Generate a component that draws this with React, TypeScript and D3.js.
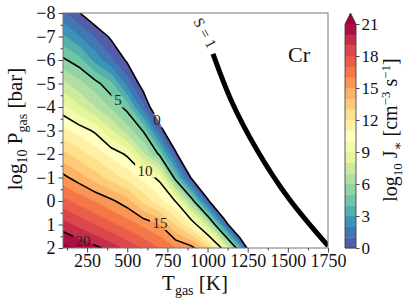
import React, { useEffect, useRef } from 'react';
import * as d3 from 'd3';

// log10 J*: rows are log10 Pgas, columns are Tgas
const gridTemps = [100, 200, 300, 400, 500, 600, 700, 800, 900, 1000, 1100, 1200, 1300];
const gridPressures = [-8, -7, -6, -5, -4, -3, -2, -1, 0, 1, 2];
const logRates = [
  [1.2, 0.07, -1.06, -2.2, -3.3, -4.5, -5.6, -6.7, -7.9, -9.0, -10.1, -11.3, -12.4],
  [3.2, 2.06, 0.92, -0.22, -1.36, -2.5, -3.6, -4.8, -5.9, -7.1, -8.2, -9.3, -10.5],
  [5.2, 4.4, 2.63, 1.21, -0.21, -1.63, -3.05, -4.5, -5.9, -7.3, -8.7, -10.1, -11.6],
  [7.3, 6.35, 5.39, 4.2, 1.53, -0.65, -2.84, -5.0, -7.2, -9.4, -11.6, -13.7, -15.9],
  [9.3, 8.15, 6.99, 5.84, 4.6, 1.22, -1.76, -4.7, -7.7, -10.7, -13.7, -16.7, -19.6],
  [11.3, 10.58, 9.8, 8.08, 6.47, 4.9, 0.93, -2.8, -6.5, -10.3, -14, -17.7, -21.4],
  [13.3, 12.43, 11.56, 10.69, 9.8, 7.2, 4.78, 0.43, -3.9, -8.3, -12.6, -17, -21.3],
  [15.3, 14.46, 13.51, 12.56, 11.61, 10.66, 9.72, 4.48, -0.24, -4.95, -9.7, -14.4, -19.1],
  [17.3, 16.61, 15.91, 15.22, 14.4, 12.71, 11.35, 9.96, 5.76, 0.54, -4.9, -10.3, -15.7],
  [19.4, 18.67, 17.95, 17.22, 16.5, 15.77, 15.04, 12.93, 11.0, 7.6, 1.82, -4.67, -11.2],
  [21.4, 20.84, 20.28, 19.56, 18.69, 17.82, 16.95, 16.09, 15.4, 13.2, 9.47, 3.75, -4.58],
];

const fillLevels = [0, 1, 2, 3, 4, 5, 6, 7, 8, 9, 10, 11, 12, 13, 14, 15, 16, 17, 18, 19, 20, 21];
const lineLevels = [0, 5, 10, 15, 20];

// inline labels of the black contours (position in data coords)
const lineLabels = [
  { text: '5', t: 442, p: -4.28 },
  { text: '0', t: 685, p: -3.43 },
  { text: '10', t: 611, p: -1.29 },
  { text: '15', t: 704, p: 0.93 },
  { text: '20', t: 225, p: 1.7 },
];

// S = 1 curve [Tgas, log10 Pgas]
const saturationTemps = [1034, 1146, 1308, 1513, 1750];
const saturationPressures = [-6.26, -4.3, -2.17, -0.04, 1.91];

const xTicks = [250, 500, 750, 1000, 1250, 1500, 1750];
const xMinorTicks = [125, 375, 625, 875, 1125, 1375, 1625];
const yTicks = [-8, -7, -6, -5, -4, -3, -2, -1, 0, 1, 2];
const yMinorTicks = [-7.5, -6.5, -5.5, -4.5, -3.5, -2.5, -1.5, -0.5, 0.5, 1.5];
const cbarTicks = [0, 3, 6, 9, 12, 15, 18, 21];

// colorbrewer Spectral, reversed (low = purple)
const spectralR = ['#5e4fa2', '#3288bd', '#66c2a5', '#abdda4', '#e6f598', '#ffffbf',
  '#fee08b', '#fdae61', '#f46d43', '#d53e4f', '#9e0142'];

const FONT = "'Liberation Serif', 'DejaVu Serif', serif";

const App = () => {
  const svgRef = useRef(null);

  useEffect(() => {
    const svg = d3.select(svgRef.current);
    svg.selectAll('*').remove();

    const left = 63, right = 328, top = 13, bottom = 248;

    const x = d3.scaleLinear().domain([100, 1750]).range([left, right]);
    const y = d3.scaleLinear().domain([-8, 2]).range([top, bottom]);

    const cmap = d3.scaleLinear<string>()
      .domain(spectralR.map((_, i) => i / (spectralR.length - 1)))
      .range(spectralR)
      .interpolate(d3.interpolateRgb);
    const vmax = fillLevels[fillLevels.length - 1];
    const bandColor = (lvl) => (lvl >= vmax ? spectralR[spectralR.length - 1] : cmap((lvl + 0.5) / vmax));

    const defs = svg.append('defs');
    defs.append('clipPath').attr('id', 'plot-clip')
      .append('rect').attr('x', left).attr('y', top)
      .attr('width', right - left).attr('height', bottom - top);

    // gaps in the contour lines where the labels sit
    const mask = defs.append('mask').attr('id', 'label-gaps')
      .attr('maskUnits', 'userSpaceOnUse')
      .attr('x', 0).attr('y', 0).attr('width', 407).attr('height', 305);
    mask.append('rect').attr('width', 407).attr('height', 305).attr('fill', 'white');
    lineLabels.forEach(l => {
      const w = 7 * l.text.length + 6;
      mask.append('rect')
        .attr('x', x(l.t) - w / 2).attr('y', y(l.p) - 7)
        .attr('width', w).attr('height', 14).attr('fill', 'black');
    });

    // filled contours
    const nx = gridTemps.length;
    const ny = gridPressures.length;
    const dT = gridTemps[1] - gridTemps[0];
    const dP = gridPressures[1] - gridPressures[0];
    const toPx = ([cx, cy]) => [
      x(gridTemps[0] + (cx - 0.5) * dT),
      y(gridPressures[0] + (cy - 0.5) * dP),
    ];
    const pathOf = (geom) => geom.coordinates
      .map(poly => poly.map(ring => 'M' + ring.map(p => toPx(p).map(v => v.toFixed(2)).join(',')).join('L') + 'Z').join(''))
      .join('');

    const values = logRates.flat();
    const contours = d3.contours().size([nx, ny]).thresholds(fillLevels)(values);
    const lineContours = d3.contours().size([nx, ny]).thresholds(lineLevels)(values);

    const g = svg.append('g').attr('clip-path', 'url(#plot-clip)');
    g.selectAll('path.band')
      .data(contours)
      .enter().append('path')
      .attr('class', 'band')
      .attr('d', d => pathOf(d))
      .attr('fill', d => bandColor(d.value))
      .attr('stroke', d => bandColor(d.value))
      .attr('stroke-width', 0.4);

    g.append('g').attr('mask', 'url(#label-gaps)')
      .selectAll('path')
      .data(lineContours)
      .enter().append('path')
      .attr('d', d => pathOf(d))
      .attr('fill', 'none')
      .attr('stroke', '#000')
      .attr('stroke-width', 1.6);

    g.selectAll('text.clabel')
      .data(lineLabels)
      .enter().append('text')
      .attr('class', 'clabel')
      .attr('x', d => x(d.t)).attr('y', d => y(d.p))
      .attr('text-anchor', 'middle')
      .attr('dominant-baseline', 'central')
      .attr('font-family', FONT)
      .attr('font-size', 15)
      .attr('fill', '#222')
      .text(d => d.text);

    // S = 1 line
    const satPoints = saturationTemps.map((t, i) => [t, saturationPressures[i]]);
    const satLine = d3.line().x(d => x(d[0])).y(d => y(d[1])).curve(d3.curveNatural);
    g.append('path')
      .attr('d', satLine(satPoints))
      .attr('fill', 'none')
      .attr('stroke', '#000')
      .attr('stroke-width', 5);

    svg.append('text')
      .attr('transform', `translate(205,33) rotate(62)`)
      .attr('text-anchor', 'middle')
      .attr('dominant-baseline', 'central')
      .attr('font-family', FONT)
      .attr('font-size', 15)
      .attr('fill', '#222')
      .text('S = 1');

    svg.append('text')
      .attr('x', 288).attr('y', 62)
      .attr('font-family', FONT)
      .attr('font-size', 22)
      .attr('fill', '#111')
      .text('Cr');

    // frame
    svg.append('rect')
      .attr('x', left).attr('y', top)
      .attr('width', right - left).attr('height', bottom - top)
      .attr('fill', 'none').attr('stroke', '#777').attr('stroke-width', 1);

    const styleAxis = (sel, size) => {
      sel.select('.domain').remove();
      sel.selectAll('line').attr('stroke', '#333').attr('stroke-width', 0.9);
      sel.selectAll('text').attr('font-family', FONT).attr('font-size', size).attr('fill', '#111');
    };

    const xAxis = svg.append('g').attr('transform', `translate(0,${bottom})`)
      .call(d3.axisBottom(x).tickValues(xTicks).tickSize(4.5).tickPadding(2).tickFormat(d3.format('d')));
    styleAxis(xAxis, 18);
    const xMinor = svg.append('g').attr('transform', `translate(0,${bottom})`)
      .call(d3.axisBottom(x).tickValues(xMinorTicks).tickSize(2.5).tickFormat(() => ''));
    styleAxis(xMinor, 18);

    const yAxis = svg.append('g').attr('transform', `translate(${left},0)`)
      .call(d3.axisLeft(y).tickValues(yTicks).tickSize(4.5).tickPadding(3).tickFormat(d3.format('d')));
    styleAxis(yAxis, 18);
    const yMinor = svg.append('g').attr('transform', `translate(${left},0)`)
      .call(d3.axisLeft(y).tickValues(yMinorTicks).tickSize(2.5).tickFormat(() => ''));
    styleAxis(yMinor, 18);

    // axis labels
    const xLabel = svg.append('text')
      .attr('x', 195).attr('y', 290)
      .attr('text-anchor', 'middle')
      .attr('font-family', FONT).attr('font-size', 21).attr('fill', '#111');
    xLabel.append('tspan').text('T');
    xLabel.append('tspan').attr('dy', 5).attr('font-size', 14).text('gas');
    xLabel.append('tspan').attr('dy', -5).text(' [K]');

    const yLabel = svg.append('text')
      .attr('transform', 'translate(22,129) rotate(-90)')
      .attr('text-anchor', 'middle')
      .attr('font-family', FONT).attr('font-size', 21).attr('fill', '#111');
    yLabel.append('tspan').text('log');
    yLabel.append('tspan').attr('dy', 5).attr('font-size', 14).text('10');
    yLabel.append('tspan').attr('dy', -5).text(' P');
    yLabel.append('tspan').attr('dy', 5).attr('font-size', 14).text('gas');
    yLabel.append('tspan').attr('dy', -5).text(' [bar]');

    // colorbar
    const cbLeft = 345, cbWidth = 11, cbTop = 24, cbTip = 13;
    const cb = d3.scaleLinear().domain([0, vmax]).range([bottom, cbTop]);
    const cbar = svg.append('g');
    cbar.selectAll('rect')
      .data(fillLevels.slice(0, -1))
      .enter().append('rect')
      .attr('x', cbLeft).attr('width', cbWidth)
      .attr('y', d => cb(d + 1)).attr('height', d => cb(d) - cb(d + 1) + 0.3)
      .attr('fill', d => bandColor(d));
    cbar.append('path')
      .attr('d', `M${cbLeft},${cbTop + 0.3}L${cbLeft + cbWidth / 2},${cbTip}L${cbLeft + cbWidth},${cbTop + 0.3}Z`)
      .attr('fill', bandColor(vmax));
    cbar.append('path')
      .attr('d', `M${cbLeft},${bottom}L${cbLeft},${cbTop}L${cbLeft + cbWidth / 2},${cbTip}L${cbLeft + cbWidth},${cbTop}L${cbLeft + cbWidth},${bottom}Z`)
      .attr('fill', 'none').attr('stroke', '#333').attr('stroke-width', 0.8);

    const cAxis = svg.append('g').attr('transform', `translate(${cbLeft + cbWidth},0)`)
      .call(d3.axisRight(cb).tickValues(cbarTicks).tickSize(3.5).tickPadding(2).tickFormat(d3.format('d')));
    styleAxis(cAxis, 17);

    const cLabel = svg.append('text')
      .attr('transform', 'translate(397,130) rotate(-90)')
      .attr('text-anchor', 'middle')
      .attr('font-family', FONT).attr('font-size', 20).attr('fill', '#111');
    cLabel.append('tspan').text('log');
    cLabel.append('tspan').attr('dy', 5).attr('font-size', 13).text('10');
    cLabel.append('tspan').attr('dy', -5).text(' J');
    cLabel.append('tspan').attr('dy', 5).attr('font-size', 13).text('∗');
    cLabel.append('tspan').attr('dy', -5).text(' [cm');
    cLabel.append('tspan').attr('dy', -7).attr('font-size', 13).text('−3');
    cLabel.append('tspan').attr('dy', 7).text(' s');
    cLabel.append('tspan').attr('dy', -7).attr('font-size', 13).text('−1');
    cLabel.append('tspan').attr('dy', 7).text(']');
  }, []);

  return (
    <div style={{ position: 'absolute', left: 0, top: 0 }}>
      <svg ref={svgRef} width={407} height={305} style={{ display: 'block', background: '#fff' }}></svg>
    </div>
  );
};

export default App;
